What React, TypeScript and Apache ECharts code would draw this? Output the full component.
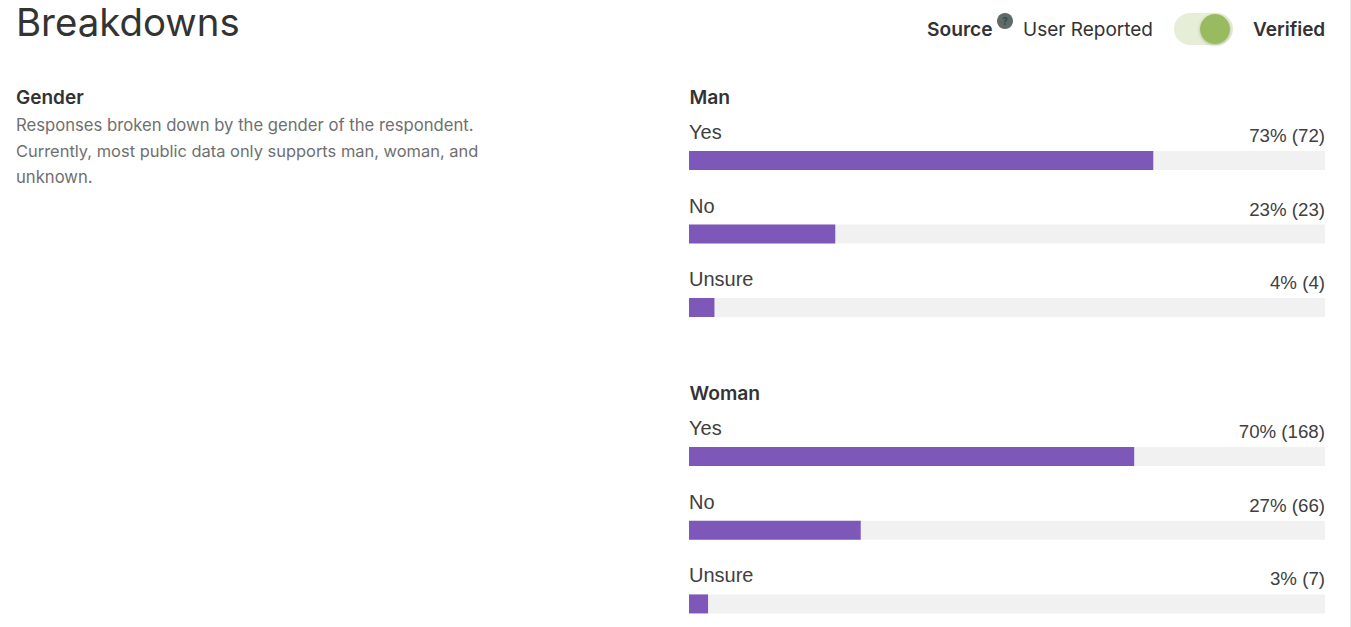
import React, { useEffect, useRef } from "react";
import * as echarts from "echarts";

const answers = ["Yes", "No", "Unsure"];
const manPercent = [73, 23, 4];
const manLabels = ["73% (72)", "23% (23)", "4% (4)"];
const womanPercent = [70, 27, 3];
const womanLabels = ["70% (168)", "27% (66)", "3% (7)"];
const descriptionLines = [
  "Responses broken down by the gender of the respondent.",
  "Currently, most public data only supports man, woman, and",
  "unknown.",
];
const descriptionSizes = [16.66, 16.45, 16.66];

const FONT = "Inter, Roboto, sans-serif";
const ROW_FONT = "'Liberation Sans', Arial, sans-serif";
const INK = "#333333";
const ROW_INK = "#404040";

const text = (x: number, y: number, t: string, size: number, weight: number | string = 400, fill = INK, align = "left") => ({
  type: "text",
  x,
  y,
  style: { text: t, fontFamily: FONT, fontSize: size, fontWeight: weight, fill, textAlign: align, textVerticalAlign: "middle" },
});

const barSeries = (idx: number, values: number[], labels: string[]) => [
  {
    type: "bar",
    xAxisIndex: idx,
    yAxisIndex: idx,
    data: values.map(() => 100),
    barWidth: 19,
    barGap: "-100%",
    silent: true,
    itemStyle: { color: "#f1f1f1" },
    label: {
      show: true,
      position: "insideTopRight",
      distance: 0,
      offset: [0, -25],
      formatter: (p: any) => labels[p.dataIndex],
      fontFamily: ROW_FONT,
      fontSize: 18.7,
      color: ROW_INK,
    },
  },
  {
    type: "bar",
    xAxisIndex: idx,
    yAxisIndex: idx,
    data: values,
    barWidth: 19,
    barGap: "-100%",
    itemStyle: { color: "#7e58b8" },
    label: {
      show: true,
      position: "insideTopLeft",
      distance: 0,
      offset: [0, -29],
      formatter: "{b}",
      fontFamily: ROW_FONT,
      fontSize: 20,
      color: ROW_INK,
    },
  },
];

export default function App() {
  const ref = useRef<HTMLDivElement>(null);
  useEffect(() => {
    const chart = echarts.init(ref.current!, null, { renderer: "svg" });
    const grid = [
      { left: 689, width: 636, top: 123.75, height: 220.5, outerBoundsMode: "none" },
      { left: 689, width: 636, top: 419.75, height: 221, outerBoundsMode: "none" },
    ];
    const xAxis = [0, 1].map((i) => ({ type: "value", gridIndex: i, min: 0, max: 100, show: false }));
    const yAxis = [0, 1].map((i) => ({ type: "category", gridIndex: i, inverse: true, data: answers, show: false }));
    chart.setOption({
      animation: false,
      backgroundColor: "#ffffff",
      grid,
      xAxis,
      yAxis,
      series: [...barSeries(0, manPercent, manLabels), ...barSeries(1, womanPercent, womanLabels)],
      graphic: [
        text(16, 22, "Breakdowns", 38.4, 400),
        text(16, 97, "Gender", 19, 600),
        ...descriptionLines.map((l, i) => text(16, 125 + i * 26, l, descriptionSizes[i], 400, "#6f6f6f")),
        text(689.5, 97, "Man", 19.3, 600),
        text(689.5, 393, "Woman", 19.3, 600),
        text(927, 29, "Source", 19.2, 600),
        { type: "circle", shape: { cx: 1005, cy: 21, r: 8 }, style: { fill: "#5f6b66" } },
        text(1005, 21, "?", 10, 700, "#2f4f4f", "center"),
        text(1023, 29, "User Reported", 19, 400),
        { type: "rect", shape: { x: 1174, y: 13, width: 59, height: 32, r: 16 }, style: { fill: "#e6eed7" } },
        {
          type: "circle",
          shape: { cx: 1215, cy: 29, r: 15 },
          style: { fill: "#9aba5f", shadowBlur: 3, shadowColor: "rgba(0,0,0,0.25)", shadowOffsetX: 0, shadowOffsetY: 1 },
        },
        text(1253, 29, "Verified", 19, 600),
        { type: "line", shape: { x1: 1350.5, y1: 0, x2: 1350.5, y2: 627 }, style: { stroke: "#e8e8e8", lineWidth: 1 } },
      ],
    });
    return () => chart.dispose();
  }, []);
  return <div ref={ref} style={{ position: "absolute", left: 0, top: 0, width: 1351, height: 627 }} />;
}
